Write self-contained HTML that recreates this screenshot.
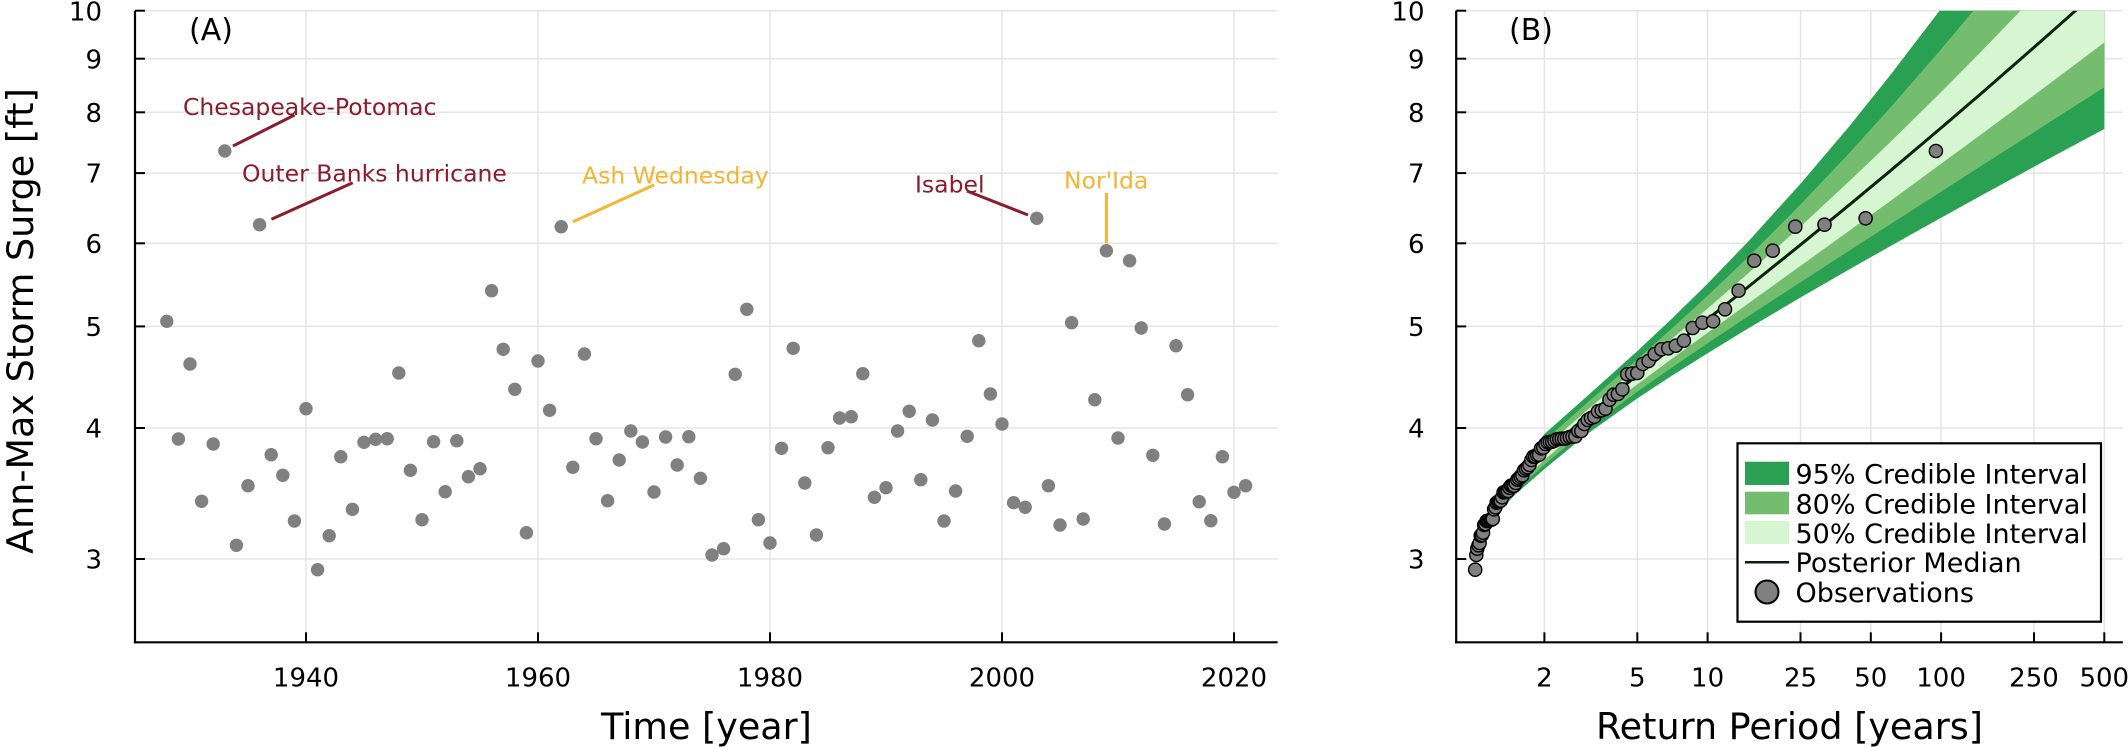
<!DOCTYPE html>
<html>
<head>
<meta charset="utf-8">
<style>
html,body{margin:0;padding:0;background:#fff;}
svg{display:block;}
text{font-family:"DejaVu Sans","Liberation Sans",sans-serif;}
</style>
</head>
<body>
<svg width="2128" height="747" viewBox="0 0 2128 747" xmlns="http://www.w3.org/2000/svg">
<rect x="0" y="0" width="2128" height="747" fill="#fff"/>
<defs>
<clipPath id="cb"><rect x="1456.2" y="10.7" width="666.6" height="631.6"/></clipPath>
</defs>

<!-- ===== Panel A gridlines ===== -->
<g stroke="#e5e5e5" stroke-width="1.5" fill="none">
<line x1="135" y1="10.7" x2="1277.6" y2="10.7"/>
<line x1="135" y1="58.7" x2="1277.6" y2="58.7"/>
<line x1="135" y1="112.3" x2="1277.6" y2="112.3"/>
<line x1="135" y1="173.1" x2="1277.6" y2="173.1"/>
<line x1="135" y1="243.3" x2="1277.6" y2="243.3"/>
<line x1="135" y1="326.4" x2="1277.6" y2="326.4"/>
<line x1="135" y1="428.0" x2="1277.6" y2="428.0"/>
<line x1="135" y1="559.0" x2="1277.6" y2="559.0"/>
<line x1="306" y1="10.7" x2="306" y2="642.3"/>
<line x1="538" y1="10.7" x2="538" y2="642.3"/>
<line x1="770" y1="10.7" x2="770" y2="642.3"/>
<line x1="1002" y1="10.7" x2="1002" y2="642.3"/>
<line x1="1234" y1="10.7" x2="1234" y2="642.3"/>
</g>

<!-- ===== Panel B gridlines ===== -->
<g stroke="#e5e5e5" stroke-width="1.5" fill="none">
<line x1="1456.2" y1="10.7" x2="2122.8" y2="10.7"/>
<line x1="1456.2" y1="58.7" x2="2122.8" y2="58.7"/>
<line x1="1456.2" y1="112.3" x2="2122.8" y2="112.3"/>
<line x1="1456.2" y1="173.1" x2="2122.8" y2="173.1"/>
<line x1="1456.2" y1="243.3" x2="2122.8" y2="243.3"/>
<line x1="1456.2" y1="326.4" x2="2122.8" y2="326.4"/>
<line x1="1456.2" y1="428.0" x2="2122.8" y2="428.0"/>
<line x1="1456.2" y1="559.0" x2="2122.8" y2="559.0"/>
<line x1="1544.4" y1="10.7" x2="1544.4" y2="642.3"/>
<line x1="1637.3" y1="10.7" x2="1637.3" y2="642.3"/>
<line x1="1707.6" y1="10.7" x2="1707.6" y2="642.3"/>
<line x1="1800.5" y1="10.7" x2="1800.5" y2="642.3"/>
<line x1="1870.8" y1="10.7" x2="1870.8" y2="642.3"/>
<line x1="1941.1" y1="10.7" x2="1941.1" y2="642.3"/>
<line x1="2034.0" y1="10.7" x2="2034.0" y2="642.3"/>
<line x1="2104.3" y1="10.7" x2="2104.3" y2="642.3"/>
</g>

<!-- ===== Panel B bands ===== -->
<g clip-path="url(#cb)">
<polygon fill="#29a052" points="1496.7,501.5 1515.2,471.0 1544.4,434.0 1585.5,397.6 1637.3,351.1 1671.4,319.1 1707.6,283.6 1748.7,241.0 1800.5,183.8 1848.2,127.6 1889.3,76.4 1941.1,8.7 1982.2,-47.6 2034.0,-121.4 2068.1,-171.6 2104.3,-226.1 2104.3,129.0 2068.1,148.4 2034.0,166.8 1982.2,195.0 1941.1,217.7 1889.3,246.7 1848.2,270.0 1800.5,297.5 1748.7,328.1 1707.6,353.2 1671.4,376.0 1637.3,398.4 1585.5,435.3 1544.4,469.1 1515.2,494.5 1496.7,514.5"/>
<polygon fill="#74bd6e" points="1496.7,503.5 1515.2,475.8 1544.4,440.8 1585.5,404.3 1637.3,359.3 1671.4,328.9 1707.6,295.7 1748.7,256.5 1800.5,204.5 1848.2,154.2 1889.3,108.8 1941.1,49.2 1982.2,0.1 2034.0,-64.0 2068.1,-107.4 2104.3,-154.4 2104.3,87.2 2068.1,110.4 2034.0,132.2 1982.2,165.3 1941.1,191.7 1889.3,224.9 1848.2,251.4 1800.5,282.2 1748.7,316.0 1707.6,343.3 1671.4,367.9 1637.3,391.6 1585.5,430.1 1544.4,464.7 1515.2,491.2 1496.7,512.5"/>
<polygon fill="#d5f6d1" points="1496.7,505.8 1515.2,479.8 1544.4,447.9 1585.5,411.5 1637.3,367.9 1671.4,339.3 1707.6,308.5 1748.7,272.9 1800.5,226.5 1848.2,182.3 1889.3,143.1 1941.1,92.1 1982.2,50.5 2034.0,-3.2 2068.1,-39.4 2104.3,-78.4 2104.3,42.5 2068.1,69.7 2034.0,95.2 1982.2,133.6 1941.1,163.8 1889.3,201.7 1848.2,231.5 1800.5,265.9 1748.7,303.1 1707.6,332.8 1671.4,359.1 1637.3,384.4 1585.5,424.6 1544.4,460.0 1515.2,487.8 1496.7,510.2"/>
<polyline fill="none" stroke="#0f2010" stroke-width="3" stroke-linejoin="round" points="1496.7,507.9 1515.2,483.9 1544.4,453.9 1585.5,417.4 1637.3,375.1 1671.4,347.9 1707.6,319.2 1748.7,286.5 1800.5,244.8 1848.2,205.8 1889.3,171.7 1941.1,127.9 1982.2,92.6 2034.0,47.4 2068.1,17.2 2104.3,-15.1"/>
</g>

<!-- ===== Panel B observations ===== -->
<g fill="#808080" stroke="#000" stroke-width="1.4">
<circle cx="1475.2" cy="569.7" r="6.6"/>
<circle cx="1476.3" cy="555" r="6.6"/>
<circle cx="1477.3" cy="548.7" r="6.6"/>
<circle cx="1478.5" cy="545.3" r="6.6"/>
<circle cx="1479.6" cy="543" r="6.6"/>
<circle cx="1480.7" cy="535.7" r="6.6"/>
<circle cx="1481.9" cy="535" r="6.6"/>
<circle cx="1483.0" cy="532.7" r="6.6"/>
<circle cx="1484.2" cy="525" r="6.6"/>
<circle cx="1485.4" cy="524" r="6.6"/>
<circle cx="1486.6" cy="521" r="6.6"/>
<circle cx="1487.8" cy="521" r="6.6"/>
<circle cx="1489.0" cy="520.7" r="6.6"/>
<circle cx="1490.3" cy="519.7" r="6.6"/>
<circle cx="1491.5" cy="519.7" r="6.6"/>
<circle cx="1492.8" cy="519" r="6.6"/>
<circle cx="1494.1" cy="509.3" r="6.6"/>
<circle cx="1495.4" cy="507.3" r="6.6"/>
<circle cx="1496.7" cy="502.7" r="6.6"/>
<circle cx="1498.1" cy="501.7" r="6.6"/>
<circle cx="1499.4" cy="501.3" r="6.6"/>
<circle cx="1500.8" cy="500.7" r="6.6"/>
<circle cx="1502.2" cy="497.3" r="6.6"/>
<circle cx="1503.6" cy="492.3" r="6.6"/>
<circle cx="1505.1" cy="492" r="6.6"/>
<circle cx="1506.5" cy="491.7" r="6.6"/>
<circle cx="1508.0" cy="491" r="6.6"/>
<circle cx="1509.5" cy="487.7" r="6.6"/>
<circle cx="1511.0" cy="485.7" r="6.6"/>
<circle cx="1512.6" cy="485.7" r="6.6"/>
<circle cx="1514.2" cy="485.7" r="6.6"/>
<circle cx="1515.8" cy="483" r="6.6"/>
<circle cx="1517.4" cy="479.7" r="6.6"/>
<circle cx="1519.0" cy="478.3" r="6.6"/>
<circle cx="1520.7" cy="476.7" r="6.6"/>
<circle cx="1522.4" cy="475.3" r="6.6"/>
<circle cx="1524.1" cy="470.3" r="6.6"/>
<circle cx="1525.9" cy="468.7" r="6.6"/>
<circle cx="1527.7" cy="467.3" r="6.6"/>
<circle cx="1529.5" cy="465" r="6.6"/>
<circle cx="1531.4" cy="460" r="6.6"/>
<circle cx="1533.3" cy="456.7" r="6.6"/>
<circle cx="1535.2" cy="456.7" r="6.6"/>
<circle cx="1537.2" cy="455.3" r="6.6"/>
<circle cx="1539.2" cy="454.7" r="6.6"/>
<circle cx="1541.2" cy="448.3" r="6.6"/>
<circle cx="1543.3" cy="447.7" r="6.6"/>
<circle cx="1545.5" cy="444" r="6.6"/>
<circle cx="1547.7" cy="442.3" r="6.6"/>
<circle cx="1549.9" cy="442" r="6.6"/>
<circle cx="1552.2" cy="441.7" r="6.6"/>
<circle cx="1554.5" cy="440.7" r="6.6"/>
<circle cx="1556.9" cy="439.3" r="6.6"/>
<circle cx="1559.3" cy="439" r="6.6"/>
<circle cx="1561.8" cy="438.7" r="6.6"/>
<circle cx="1564.4" cy="438.7" r="6.6"/>
<circle cx="1567.0" cy="438" r="6.6"/>
<circle cx="1569.7" cy="437" r="6.6"/>
<circle cx="1572.5" cy="436.7" r="6.6"/>
<circle cx="1575.4" cy="436.3" r="6.6"/>
<circle cx="1578.3" cy="431" r="6.6"/>
<circle cx="1581.3" cy="431" r="6.6"/>
<circle cx="1584.4" cy="424" r="6.6"/>
<circle cx="1587.7" cy="420" r="6.6"/>
<circle cx="1591.0" cy="418" r="6.6"/>
<circle cx="1594.4" cy="416.7" r="6.6"/>
<circle cx="1598.0" cy="411.3" r="6.6"/>
<circle cx="1601.7" cy="410.3" r="6.6"/>
<circle cx="1605.5" cy="408.7" r="6.6"/>
<circle cx="1609.5" cy="399.7" r="6.6"/>
<circle cx="1613.6" cy="394.7" r="6.6"/>
<circle cx="1617.9" cy="394" r="6.6"/>
<circle cx="1622.4" cy="389.3" r="6.6"/>
<circle cx="1627.2" cy="374.3" r="6.6"/>
<circle cx="1632.1" cy="373.7" r="6.6"/>
<circle cx="1637.3" cy="373" r="6.6"/>
<circle cx="1642.8" cy="364" r="6.6"/>
<circle cx="1648.6" cy="361" r="6.6"/>
<circle cx="1654.7" cy="354" r="6.6"/>
<circle cx="1661.3" cy="349.3" r="6.6"/>
<circle cx="1668.3" cy="348.3" r="6.6"/>
<circle cx="1675.8" cy="345.7" r="6.6"/>
<circle cx="1683.9" cy="340.7" r="6.6"/>
<circle cx="1692.7" cy="328" r="6.6"/>
<circle cx="1702.4" cy="322.7" r="6.6"/>
<circle cx="1713.1" cy="321.3" r="6.6"/>
<circle cx="1725.0" cy="309.3" r="6.6"/>
<circle cx="1738.6" cy="290.7" r="6.6"/>
<circle cx="1754.2" cy="260.7" r="6.6"/>
<circle cx="1772.7" cy="250.7" r="6.6"/>
<circle cx="1795.3" cy="226.7" r="6.6"/>
<circle cx="1824.5" cy="224.7" r="6.6"/>
<circle cx="1865.6" cy="218.3" r="6.6"/>
<circle cx="1935.9" cy="151" r="6.6"/>
</g>

<!-- ===== Panel A annotation lines ===== -->
<g stroke-width="3" stroke-linecap="butt">
<line x1="233" y1="146" x2="294.6" y2="115" stroke="#8c1c2d"/>
<line x1="271.4" y1="219.3" x2="352.7" y2="182.7" stroke="#8c1c2d"/>
<line x1="573" y1="221.7" x2="654" y2="185" stroke="#f4b532"/>
<line x1="967" y1="191" x2="1028" y2="215" stroke="#8c1c2d"/>
<line x1="1106.4" y1="193" x2="1106.4" y2="243.3" stroke="#f4b532"/>
</g>

<!-- ===== Panel A points ===== -->
<g fill="#808080">
<circle cx="166.8" cy="321.3" r="6.7"/>
<circle cx="178.4" cy="439" r="6.7"/>
<circle cx="190.0" cy="364" r="6.7"/>
<circle cx="201.6" cy="501.3" r="6.7"/>
<circle cx="213.2" cy="444" r="6.7"/>
<circle cx="224.8" cy="151" r="6.7"/>
<circle cx="236.4" cy="545.3" r="6.7"/>
<circle cx="248.0" cy="485.7" r="6.7"/>
<circle cx="259.6" cy="224.7" r="6.7"/>
<circle cx="271.2" cy="454.7" r="6.7"/>
<circle cx="282.8" cy="475.3" r="6.7"/>
<circle cx="294.4" cy="521" r="6.7"/>
<circle cx="306.0" cy="408.7" r="6.7"/>
<circle cx="317.6" cy="569.7" r="6.7"/>
<circle cx="329.2" cy="535.7" r="6.7"/>
<circle cx="340.8" cy="456.7" r="6.7"/>
<circle cx="352.4" cy="509.3" r="6.7"/>
<circle cx="364.0" cy="442.3" r="6.7"/>
<circle cx="375.6" cy="439.3" r="6.7"/>
<circle cx="387.2" cy="438.7" r="6.7"/>
<circle cx="398.8" cy="373" r="6.7"/>
<circle cx="410.4" cy="470.3" r="6.7"/>
<circle cx="422.0" cy="519.7" r="6.7"/>
<circle cx="433.6" cy="441.7" r="6.7"/>
<circle cx="445.2" cy="491.7" r="6.7"/>
<circle cx="456.8" cy="440.7" r="6.7"/>
<circle cx="468.4" cy="476.7" r="6.7"/>
<circle cx="480.0" cy="468.7" r="6.7"/>
<circle cx="491.6" cy="290.7" r="6.7"/>
<circle cx="503.2" cy="349.3" r="6.7"/>
<circle cx="514.8" cy="389.3" r="6.7"/>
<circle cx="526.4" cy="532.7" r="6.7"/>
<circle cx="538.0" cy="361" r="6.7"/>
<circle cx="549.6" cy="410.3" r="6.7"/>
<circle cx="561.2" cy="226.7" r="6.7"/>
<circle cx="572.8" cy="467.3" r="6.7"/>
<circle cx="584.4" cy="354" r="6.7"/>
<circle cx="596.0" cy="438.7" r="6.7"/>
<circle cx="607.6" cy="500.7" r="6.7"/>
<circle cx="619.2" cy="460" r="6.7"/>
<circle cx="630.8" cy="431" r="6.7"/>
<circle cx="642.4" cy="442" r="6.7"/>
<circle cx="654.0" cy="492" r="6.7"/>
<circle cx="665.6" cy="437" r="6.7"/>
<circle cx="677.2" cy="465" r="6.7"/>
<circle cx="688.8" cy="436.7" r="6.7"/>
<circle cx="700.4" cy="478.3" r="6.7"/>
<circle cx="712.0" cy="555" r="6.7"/>
<circle cx="723.6" cy="548.7" r="6.7"/>
<circle cx="735.2" cy="374.3" r="6.7"/>
<circle cx="746.8" cy="309.3" r="6.7"/>
<circle cx="758.4" cy="519.7" r="6.7"/>
<circle cx="770.0" cy="543" r="6.7"/>
<circle cx="781.6" cy="448.3" r="6.7"/>
<circle cx="793.2" cy="348.3" r="6.7"/>
<circle cx="804.8" cy="483" r="6.7"/>
<circle cx="816.4" cy="535" r="6.7"/>
<circle cx="828.0" cy="447.7" r="6.7"/>
<circle cx="839.6" cy="418" r="6.7"/>
<circle cx="851.2" cy="416.7" r="6.7"/>
<circle cx="862.8" cy="373.7" r="6.7"/>
<circle cx="874.4" cy="497.3" r="6.7"/>
<circle cx="886.0" cy="487.7" r="6.7"/>
<circle cx="897.6" cy="431" r="6.7"/>
<circle cx="909.2" cy="411.3" r="6.7"/>
<circle cx="920.8" cy="479.7" r="6.7"/>
<circle cx="932.4" cy="420" r="6.7"/>
<circle cx="944.0" cy="521" r="6.7"/>
<circle cx="955.6" cy="491" r="6.7"/>
<circle cx="967.2" cy="436.3" r="6.7"/>
<circle cx="978.8" cy="340.7" r="6.7"/>
<circle cx="990.4" cy="394" r="6.7"/>
<circle cx="1002.0" cy="424" r="6.7"/>
<circle cx="1013.6" cy="502.7" r="6.7"/>
<circle cx="1025.2" cy="507.3" r="6.7"/>
<circle cx="1036.8" cy="218.3" r="6.7"/>
<circle cx="1048.4" cy="485.7" r="6.7"/>
<circle cx="1060.0" cy="525" r="6.7"/>
<circle cx="1071.6" cy="322.7" r="6.7"/>
<circle cx="1083.2" cy="519" r="6.7"/>
<circle cx="1094.8" cy="399.7" r="6.7"/>
<circle cx="1106.4" cy="250.7" r="6.7"/>
<circle cx="1118.0" cy="438" r="6.7"/>
<circle cx="1129.6" cy="260.7" r="6.7"/>
<circle cx="1141.2" cy="328" r="6.7"/>
<circle cx="1152.8" cy="455.3" r="6.7"/>
<circle cx="1164.4" cy="524" r="6.7"/>
<circle cx="1176.0" cy="345.7" r="6.7"/>
<circle cx="1187.6" cy="394.7" r="6.7"/>
<circle cx="1199.2" cy="501.7" r="6.7"/>
<circle cx="1210.8" cy="520.7" r="6.7"/>
<circle cx="1222.4" cy="456.7" r="6.7"/>
<circle cx="1234.0" cy="492.3" r="6.7"/>
<circle cx="1245.6" cy="485.7" r="6.7"/>
</g>

<!-- ===== Panel A annotation text ===== -->
<g font-size="23.5">
<text x="183" y="115" fill="#8c1c2d">Chesapeake-Potomac</text>
<text x="242" y="181.7" fill="#8c1c2d">Outer Banks hurricane</text>
<text x="582" y="183.3" fill="#f4b532">Ash Wednesday</text>
<text x="915" y="192.7" fill="#8c1c2d">Isabel</text>
<text x="1064" y="188.3" fill="#f4b532">Nor'Ida</text>
</g>

<!-- ===== Axes ===== -->
<g stroke="#000" stroke-width="2.2" fill="none">
<line x1="135" y1="10.7" x2="135" y2="643.4"/>
<line x1="133.9" y1="642.3" x2="1277.6" y2="642.3"/>
<line x1="1456.2" y1="10.7" x2="1456.2" y2="643.4"/>
<line x1="1455.1" y1="642.3" x2="2122.8" y2="642.3"/>
</g>
<g stroke="#000" stroke-width="2" fill="none">
<line x1="135" y1="10.7" x2="145" y2="10.7"/>
<line x1="135" y1="58.7" x2="145" y2="58.7"/>
<line x1="135" y1="112.3" x2="145" y2="112.3"/>
<line x1="135" y1="173.1" x2="145" y2="173.1"/>
<line x1="135" y1="243.3" x2="145" y2="243.3"/>
<line x1="135" y1="326.4" x2="145" y2="326.4"/>
<line x1="135" y1="428.0" x2="145" y2="428.0"/>
<line x1="135" y1="559.0" x2="145" y2="559.0"/>
<line x1="306" y1="642.3" x2="306" y2="632.3"/>
<line x1="538" y1="642.3" x2="538" y2="632.3"/>
<line x1="770" y1="642.3" x2="770" y2="632.3"/>
<line x1="1002" y1="642.3" x2="1002" y2="632.3"/>
<line x1="1234" y1="642.3" x2="1234" y2="632.3"/>
<line x1="1456.2" y1="10.7" x2="1466.2" y2="10.7"/>
<line x1="1456.2" y1="58.7" x2="1466.2" y2="58.7"/>
<line x1="1456.2" y1="112.3" x2="1466.2" y2="112.3"/>
<line x1="1456.2" y1="173.1" x2="1466.2" y2="173.1"/>
<line x1="1456.2" y1="243.3" x2="1466.2" y2="243.3"/>
<line x1="1456.2" y1="326.4" x2="1466.2" y2="326.4"/>
<line x1="1456.2" y1="428.0" x2="1466.2" y2="428.0"/>
<line x1="1456.2" y1="559.0" x2="1466.2" y2="559.0"/>
<line x1="1544.4" y1="642.3" x2="1544.4" y2="632.3"/>
<line x1="1637.3" y1="642.3" x2="1637.3" y2="632.3"/>
<line x1="1707.6" y1="642.3" x2="1707.6" y2="632.3"/>
<line x1="1800.5" y1="642.3" x2="1800.5" y2="632.3"/>
<line x1="1870.8" y1="642.3" x2="1870.8" y2="632.3"/>
<line x1="1941.1" y1="642.3" x2="1941.1" y2="632.3"/>
<line x1="2034.0" y1="642.3" x2="2034.0" y2="632.3"/>
<line x1="2104.3" y1="642.3" x2="2104.3" y2="632.3"/>
</g>

<!-- ===== Tick labels ===== -->
<g font-size="26" fill="#000" text-anchor="end">
<text x="102" y="20.3">10</text>
<text x="102" y="68.3">9</text>
<text x="102" y="121.9">8</text>
<text x="102" y="182.7">7</text>
<text x="102" y="252.9">6</text>
<text x="102" y="336.0">5</text>
<text x="102" y="437.6">4</text>
<text x="102" y="568.6">3</text>
<text x="1424.5" y="20.3">10</text>
<text x="1424.5" y="68.3">9</text>
<text x="1424.5" y="121.9">8</text>
<text x="1424.5" y="182.7">7</text>
<text x="1424.5" y="252.9">6</text>
<text x="1424.5" y="336.0">5</text>
<text x="1424.5" y="437.6">4</text>
<text x="1424.5" y="568.6">3</text>
</g>
<g font-size="26" fill="#000" text-anchor="middle">
<text x="306" y="686.5">1940</text>
<text x="538" y="686.5">1960</text>
<text x="770" y="686.5">1980</text>
<text x="1002" y="686.5">2000</text>
<text x="1234" y="686.5">2020</text>
<text x="1544.4" y="686.5">2</text>
<text x="1637.3" y="686.5">5</text>
<text x="1707.6" y="686.5">10</text>
<text x="1800.5" y="686.5">25</text>
<text x="1870.8" y="686.5">50</text>
<text x="1941.1" y="686.5">100</text>
<text x="2034.0" y="686.5">250</text>
<text x="2104.3" y="686.5">500</text>
</g>

<!-- ===== Axis titles ===== -->
<g font-size="36.5" fill="#000" text-anchor="middle">
<text x="706.5" y="739">Time [year]</text>
<text x="1789.5" y="739">Return Period [years]</text>
<text transform="translate(33,321) rotate(-90)">Ann-Max Storm Surge [ft]</text>
</g>

<!-- ===== Panel labels ===== -->
<g font-size="30" fill="#000">
<text x="189" y="40">(A)</text>
<text x="1509" y="40">(B)</text>
</g>

<!-- ===== Legend ===== -->
<rect x="1737.5" y="443.3" width="363.5" height="178.4" fill="#fff" stroke="#000" stroke-width="2.2"/>
<rect x="1745" y="461.7" width="44" height="23.3" fill="#29a052"/>
<rect x="1745" y="491.7" width="44" height="22.6" fill="#74bd6e"/>
<rect x="1745" y="521" width="44" height="23" fill="#d5f6d1"/>
<line x1="1745" y1="562.3" x2="1789" y2="562.3" stroke="#0f2010" stroke-width="2.5"/>
<circle cx="1767" cy="592" r="11.5" fill="#808080" stroke="#000" stroke-width="2"/>
<g font-size="27" fill="#000">
<text x="1795.5" y="483.3">95% Credible Interval</text>
<text x="1795.5" y="513.3">80% Credible Interval</text>
<text x="1795.5" y="542.8">50% Credible Interval</text>
<text x="1795.5" y="572">Posterior Median</text>
<text x="1795.5" y="601.8">Observations</text>
</g>
</svg>
</body>
</html>
